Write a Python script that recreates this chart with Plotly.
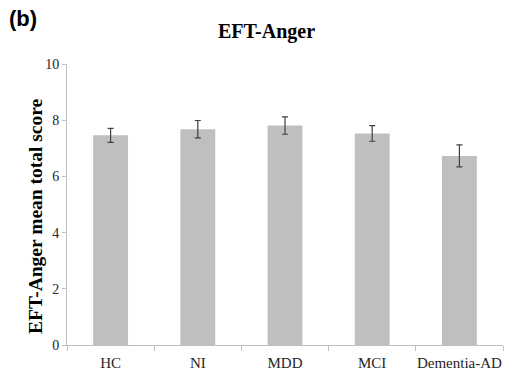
import plotly.graph_objects as go

groups = ["HC", "NI", "MDD", "MCI", "Dementia-AD"]
mean_scores = [7.46, 7.68, 7.81, 7.53, 6.73]
std_errors = [0.25, 0.31, 0.31, 0.28, 0.39]
y_ticks = [0, 2, 4, 6, 8, 10]

serif = "Liberation Serif, Times New Roman, serif"
sans = "Liberation Sans, Arial, sans-serif"

W, H = 508, 378
L, R, T, B = 67, 5, 64, 33
PW, PH = W - L - R, H - T - B


def px(x):
    return (x - L) / PW


def py(y):
    return (H - B - y) / PH


fig = go.Figure(
    go.Bar(
        x=groups,
        y=mean_scores,
        width=0.4,
        marker=dict(color="#bfbfbf", line=dict(width=0)),
        error_y=dict(type="data", array=std_errors, visible=True,
                     color="#404040", thickness=1.2, width=3),
    )
)

fig.update_layout(
    width=W,
    height=H,
    margin=dict(l=L, r=R, t=T, b=B, autoexpand=False),
    paper_bgcolor="white",
    plot_bgcolor="white",
    showlegend=False,
    font=dict(family=serif, size=13, color="#262626"),
    annotations=[
        dict(text="<b>(b)</b>", xref="paper", yref="paper",
             x=px(7), y=py(18), xanchor="left", yanchor="middle",
             showarrow=False,
             font=dict(family=sans, size=22, color="#000000")),
        dict(text="<b>EFT-Anger</b>", xref="paper", yref="paper",
             x=px(266), y=py(32), xanchor="center", yanchor="middle",
             showarrow=False,
             font=dict(family=serif, size=20, color="#000000")),
        dict(text="<b>EFT-Anger mean total score</b>", xref="paper", yref="paper",
             x=px(35), y=py(216), xanchor="center", yanchor="middle",
             textangle=-90, showarrow=False,
             font=dict(family=serif, size=19.5, color="#000000")),
    ],
)

fig.update_xaxes(
    showgrid=False, automargin=False, tickangle=0,
    showline=True, linecolor="#bfbfbf", linewidth=1,
    ticks="outside", tickson="boundaries", ticklen=5, tickcolor="#bfbfbf",
    ticklabelstandoff=4,
    tickfont=dict(family=serif, size=15, color="#262626"),
)

fig.update_yaxes(
    range=[0, 10],
    tickvals=y_ticks, automargin=False,
    showgrid=False, zeroline=False,
    showline=True, linecolor="#bfbfbf", linewidth=1,
    ticks="outside", ticklen=4, tickcolor="#bfbfbf",
    tickfont=dict(family=serif, size=14, color="#262626"),
)

fig.write_html("out.html")
